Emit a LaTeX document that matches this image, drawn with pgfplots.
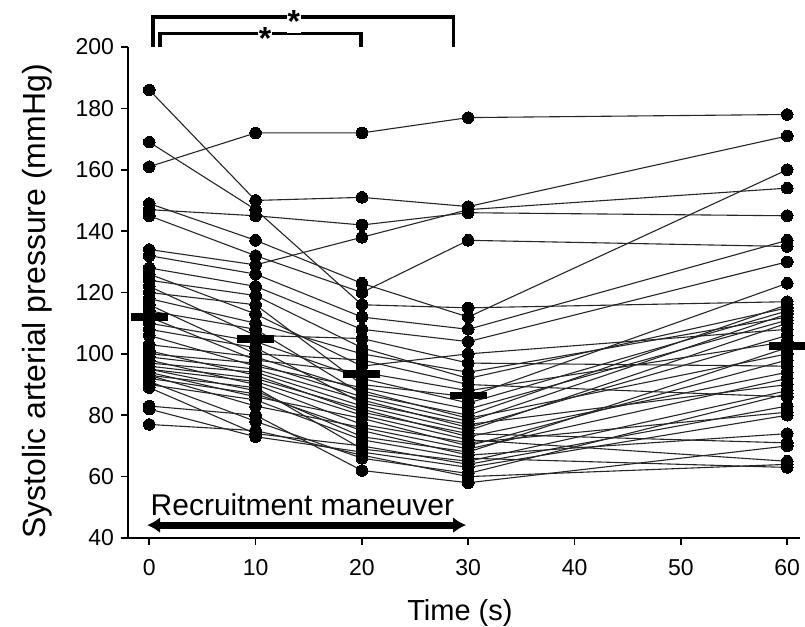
\documentclass[border=0pt]{standalone}
\usepackage{fontspec}
\setmainfont{Liberation Sans}
\usepackage{pgfplots}
\pgfplotsset{compat=1.18}
\usetikzlibrary{arrows.meta}

\begin{document}
\begin{tikzpicture}
\path[use as bounding box] (-64pt,-44.5pt) rectangle (338.5pt,269pt);
\begin{axis}[
  scale only axis, width=336pt, height=245.5pt,
  at={(0,0)}, anchor=south west,
  xmin=-2, xmax=61.2, ymin=40, ymax=200,
  axis lines=left, axis line style={-, line width=0.8pt},
  xtick={0,10,...,60}, ytick={40,60,...,200},
  tick align=outside, major tick length=3.5pt,
  tick style={line width=0.8pt, black},
  /pgf/number format/assume math mode=true,
  tick label style={font=\fontsize{11.5}{13}\selectfont},
  xticklabel style={yshift=-3.5pt},
  xlabel={Time (s)},
  ylabel={Systolic arterial pressure (mmHg)},
  xlabel style={at={(axis description cs:0.494,-0.1684)}, anchor=base,
    font=\fontsize{14.5}{17}\selectfont},
  ylabel style={at={(axis description cs:-0.1235,0.4817)}, anchor=base,
    font=\fontsize{16}{19}\selectfont},
  clip=false,
  subj/.style={black!85, line width=0.55pt, mark=*, mark size=2.9pt,
    mark options={black, line width=0pt}},
]
% individual patients: (time, SAP)
\addplot[subj] coordinates {(0,161)(10,172)(20,172)(30,177)(60,178)};
\addplot[subj] coordinates {(0,186)(10,150)(20,151)(30,148)(60,171)};
\addplot[subj] coordinates {(0,169)(10,147)(20,116)(30,115)(60,117)};
\addplot[subj] coordinates {(0,147)(10,145)(20,142)(30,146)(60,145)};
\addplot[subj] coordinates {(0,149)(10,137)(20,123)(30,112)(60,160)};
\addplot[subj] coordinates {(0,134)(10,129)(20,138)(30,147)(60,154)};
\addplot[subj] coordinates {(0,145)(10,132)(20,120)(30,137)(60,135)};
\addplot[subj] coordinates {(0,132)(10,126)(20,112)(30,108)(60,137)};
\addplot[subj] coordinates {(0,128)(10,122)(20,108)(30,104)(60,130)};
\addplot[subj] coordinates {(0,126)(10,113)(20,96)(30,100)(60,108)};
\addplot[subj] coordinates {(0,124)(10,119)(20,102)(30,92)(60,115)};
\addplot[subj] coordinates {(0,122)(10,106)(20,105)(30,97)(60,96)};
\addplot[subj] coordinates {(0,120)(10,116)(20,90)(30,86)(60,123)};
\addplot[subj] coordinates {(0,118)(10,110)(20,100)(30,94)(60,112)};
\addplot[subj] coordinates {(0,116)(10,100)(20,98)(30,90)(60,86)};
\addplot[subj] coordinates {(0,114)(10,108)(20,87)(30,80)(60,116)};
\addplot[subj] coordinates {(0,112)(10,98)(20,94)(30,88)(60,104)};
\addplot[subj] coordinates {(0,110)(10,104)(20,92)(30,84)(60,114)};
\addplot[subj] coordinates {(0,108)(10,102)(20,84)(30,77)(60,90)};
\addplot[subj] coordinates {(0,106)(10,96)(20,89)(30,82)(60,111)};
\addplot[subj] coordinates {(0,103)(10,99)(20,88)(30,79)(60,100)};
\addplot[subj] coordinates {(0,101)(10,93)(20,81)(30,74)(60,71)};
\addplot[subj] coordinates {(0,100)(10,97)(20,86)(30,78)(60,113)};
\addplot[subj] coordinates {(0,99)(10,95)(20,85)(30,76)(60,106)};
\addplot[subj] coordinates {(0,98)(10,90)(20,77)(30,71)(60,81)};
\addplot[subj] coordinates {(0,97)(10,94)(20,83)(30,75)(60,110)};
\addplot[subj] coordinates {(0,96)(10,92)(20,82)(30,73)(60,94)};
\addplot[subj] coordinates {(0,95)(10,88)(20,73)(30,68)(60,102)};
\addplot[subj] coordinates {(0,95)(10,91)(20,80)(30,72)(60,65)};
\addplot[subj] coordinates {(0,94)(10,86)(20,79)(30,70)(60,98)};
\addplot[subj] coordinates {(0,93)(10,89)(20,69)(30,65)(60,88)};
\addplot[subj] coordinates {(0,93)(10,83)(20,76)(30,69)(60,92)};
\addplot[subj] coordinates {(0,92)(10,87)(20,75)(30,67)(60,74)};
\addplot[subj] coordinates {(0,91)(10,78)(20,66)(30,61)(60,87)};
\addplot[subj] coordinates {(0,90)(10,85)(20,72)(30,66)(60,63)};
\addplot[subj] coordinates {(0,89)(10,74)(20,70)(30,64)(60,83)};
\addplot[subj] coordinates {(0,83)(10,80)(20,62)(30,58)(60,70)};
\addplot[subj] coordinates {(0,82)(10,73)(20,68)(30,63)(60,80)};
\addplot[subj] coordinates {(0,77)(10,75)(20,67)(30,60)(60,64)};
% group means
\addplot[only marks, mark=-, mark size=9.25pt, mark options={black, line width=3.8pt}]
  coordinates {(0,112)(10,104.8)(20,93.4)(30,86.4)(60,102.6)};
% significance brackets
\draw[line width=1.7pt] (axis cs:0.35,200) -- (axis cs:0.35,209.8)
  -- (axis cs:28.6,209.8) -- (axis cs:28.6,200);
\draw[line width=1.7pt] (axis cs:1.0,200) -- (axis cs:1.0,204.4)
  -- (axis cs:19.9,204.4) -- (axis cs:19.9,200);
\node[fill=white, inner sep=0.3pt, font=\fontsize{16}{18}\selectfont\bfseries, yshift=-2.3pt]
  at (axis cs:13.6,209.8) {*};
\node[fill=white, inner sep=0.3pt, font=\fontsize{16}{18}\selectfont\bfseries, yshift=-2.3pt]
  at (axis cs:10.9,204.4) {*};
% recruitment maneuver
\draw[{Latex[length=6.5pt,width=8pt]}-{Latex[length=6.5pt,width=8pt]}, line width=3.6pt]
  (axis cs:-0.2,44.2) -- (axis cs:29.8,44.2);
\node[anchor=base west, inner sep=0pt, font=\fontsize{15}{17}\selectfont]
  at (axis cs:0.1,47.3) {Recruitment maneuver};
\end{axis}
\end{tikzpicture}
\end{document}
